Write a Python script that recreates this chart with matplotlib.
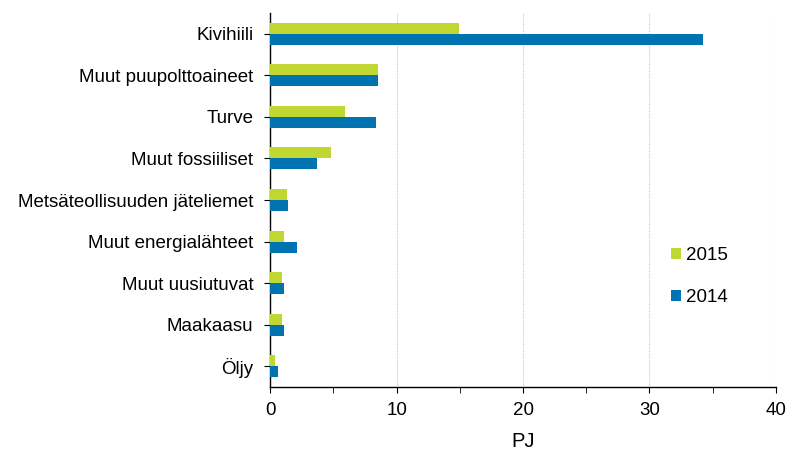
import matplotlib
matplotlib.use("Agg")
import matplotlib.pyplot as plt
import numpy as np

plt.rcParams["font.family"] = ["Liberation Sans", "DejaVu Sans"]

CATEGORIES = [
    "Kivihiili",
    "Muut puupolttoaineet",
    "Turve",
    "Muut fossiiliset",
    "Metsäteollisuuden jäteliemet",
    "Muut energialähteet",
    "Muut uusiutuvat",
    "Maakaasu",
    "Öljy",
]
VALUES_2015 = [14.9, 8.5, 5.9, 4.8, 1.35, 1.1, 0.9, 0.9, 0.37]
VALUES_2014 = [34.2, 8.5, 8.4, 3.7, 1.4, 2.1, 1.1, 1.1, 0.63]

GREEN = "#bfd730"
BLUE = "#0073b0"

fig = plt.figure(figsize=(8.04, 4.5), dpi=100)
ax = fig.add_axes([0.336, 0.14, 0.629, 0.831])

y = np.arange(len(CATEGORIES))
h = 0.265
ax.barh(y - h / 2, VALUES_2015, height=h, color=GREEN, label="2015", zorder=3)
ax.barh(y + h / 2, VALUES_2014, height=h, color=BLUE, label="2014", zorder=3)

ax.set_ylim(len(CATEGORIES) - 0.5, -0.5)
ax.set_xlim(0, 40)
ax.set_yticks(y)
ax.set_yticklabels(CATEGORIES, fontsize=13.5)
ax.set_xticks([0, 10, 20, 30, 40])
ax.set_xticks([5, 15, 25, 35], minor=True)
ax.tick_params(axis="x", which="both", direction="out", length=4, labelsize=13.5, pad=7)
ax.tick_params(axis="y", direction="out", length=4, pad=8)
ax.set_xlabel("PJ", fontsize=14.5, labelpad=9)

ax.grid(axis="x", color="#c8c8c8", linestyle=(0, (1, 1)), linewidth=0.8, zorder=0)
for side in ["top", "right"]:
    ax.spines[side].set_visible(False)
ax.spines["left"].set_linewidth(1.0)
ax.spines["bottom"].set_linewidth(1.0)

ax.legend(
    loc="center left",
    bbox_to_anchor=(0.8346, 0.385),
    bbox_transform=fig.transFigure,
    borderaxespad=0,
    borderpad=0,
    frameon=False,
    fontsize=13.5,
    handlelength=0.55,
    handleheight=0.55,
    handletextpad=0.25,
    labelspacing=1.32,
)

fig.savefig("out.png", dpi=100, facecolor="white")
